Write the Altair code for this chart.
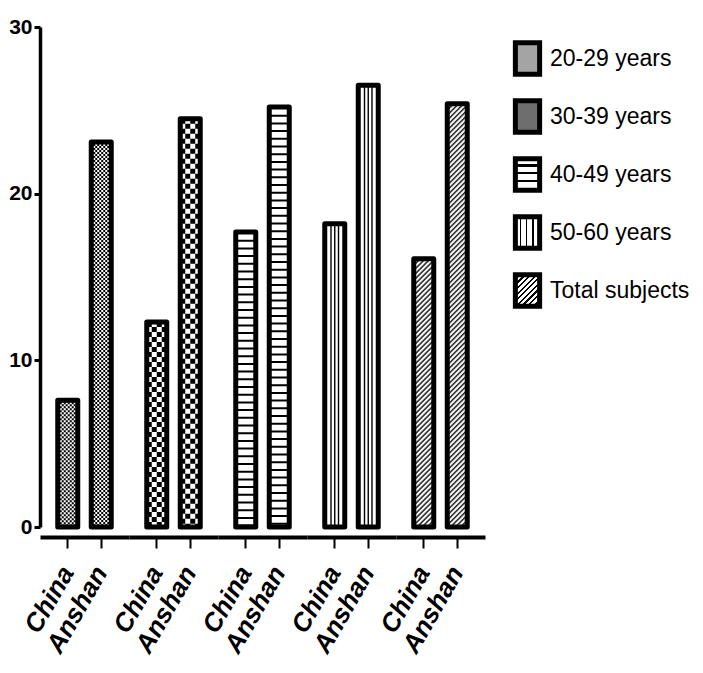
import json
import altair as alt
import pandas as pd

# ---------------- data ----------------
groups = ["20-29 years", "30-39 years", "40-49 years", "50-60 years", "Total subjects"]
locations = ["China", "Anshan"]
china_values = [7.6, 12.3, 17.7, 18.2, 16.1]
anshan_values = [23.1, 24.5, 25.2, 26.5, 25.4]
y_ticks = [0, 10, 20, 30]

rows = []
for g, c, a in zip(groups, china_values, anshan_values):
    rows.append({"group": g, "loc": "China", "value": c})
    rows.append({"group": g, "loc": "Anshan", "value": a})
df = pd.DataFrame(rows)

# ---------------- styling helpers ----------------
SANS = "Liberation Sans, Arial"
BAR_W = 20


def stripe_stops(n, black_frac):
    stops = []
    for i in range(n):
        s = i / n
        m = s + (1 - black_frac) / n
        e = (i + 1) / n
        stops += [{"offset": round(s, 4), "color": "white"},
                  {"offset": round(m, 4), "color": "white"},
                  {"offset": round(m, 4), "color": "black"},
                  {"offset": round(e, 4), "color": "black"}]
    return stops


def grad_expr(x2, y2, n, frac):
    g = {"gradient": "linear", "x1": 0, "y1": 0, "x2": x2, "y2": y2,
         "stops": stripe_stops(n, frac)}
    return {"expr": json.dumps(g)}


fill_range = [
    "#a4a4a4",
    "#6e6e6e",
    grad_expr(0, 1, 4, 0.28),
    grad_expr(1, 0, 4, 0.3),
    grad_expr(0.853, 1.112, 10, 0.4),
]

x_enc = alt.X(
    "loc:N",
    sort=locations,
    scale=alt.Scale(domain=locations, paddingInner=0.403, paddingOuter=0.53),
    axis=alt.Axis(title=None, labelAngle=-60, labelAlign="right", labelBaseline="middle",
                  labelFont=SANS, labelFontWeight="bold", labelFontStyle="italic",
                  labelFontSize=26, labelColor="black", tickColor="black", tickWidth=2,
                  tickSize=11, domainColor="black", domainWidth=4, labelPadding=20),
)
y_enc = alt.Y(
    "value:Q",
    scale=alt.Scale(domain=[0, 30], nice=False),
    axis=alt.Axis(values=y_ticks, title=None, grid=False, domainColor="black",
                  domainWidth=3.5, tickColor="black", tickWidth=3, tickSize=6,
                  labelFont=SANS, labelFontWeight="bold", labelFontSize=21,
                  labelColor="black", labelPadding=2, format="d"),
)

base = alt.Chart().mark_bar(strokeWidth=0).encode(
    x=x_enc,
    y=y_enc,
    fill=alt.Fill(
        "group:N",
        scale=alt.Scale(domain=groups, range=fill_range),
        legend=alt.Legend(title=None, orient="none", legendX=469, legendY=13, padding=0,
                          symbolType="M-0.767,-1H0.767V1H-0.767Z", symbolSize=1000,
                          symbolStrokeColor="black", symbolStrokeWidth=5,
                          labelFont=SANS, labelFontSize=23, labelColor="black",
                          rowPadding=5, labelOffset=4),
    ),
)


def rule(group, **kw):
    props = dict(color="black", strokeCap="butt")
    props.update(kw)
    return alt.Chart().transform_filter(alt.datum.group == group).mark_rule(**props).encode(
        x=x_enc, y=y_enc, y2=alt.datum(0)
    )


overlays = []
# white underlay for every group
for g in groups:
    overlays.append(rule(g, color="white", strokeWidth=BAR_W))
# 20-29: fine checker
for i in range(10):
    overlays.append(rule(groups[0], strokeWidth=2, xOffset=-9 + 2 * i,
                         strokeDash=[2, 2], strokeDashOffset=(i % 2) * 2))
# 30-39: coarse checker
for i in range(4):
    overlays.append(rule(groups[1], strokeWidth=5, xOffset=-7.5 + 5 * i,
                         strokeDash=[5, 5], strokeDashOffset=(i % 2) * 5))
# 40-49: horizontal lines
overlays.append(rule(groups[2], strokeWidth=BAR_W, strokeDash=[2, 5.7]))
# 50-60: vertical lines
for off in [-3.75, 0, 3.75]:
    overlays.append(rule(groups[3], strokeWidth=1.4, xOffset=off))
# Total: diagonal hatching
for i in range(20):
    overlays.append(rule(groups[4], strokeWidth=1.05, xOffset=-9.5 + i,
                         strokeDash=[2, 3], strokeDashOffset=i % 5))

outline = alt.Chart().mark_bar(fill="transparent", stroke="black", strokeWidth=5,
                               strokeJoin="round").encode(x=x_enc, y=y_enc)

layered = alt.layer(base, *overlays, outline, data=df).properties(width=89, height=500)

chart = layered.facet(
    column=alt.Column("group:N", sort=groups, title=None, header=alt.Header(labels=False)),
    spacing=0,
).configure_view(strokeWidth=0).properties(
    padding={"left": 0, "top": 8, "right": 0, "bottom": 0},
    background="white",
)

chart.save("out.html", embed_options={"renderer": "svg", "actions": False})
